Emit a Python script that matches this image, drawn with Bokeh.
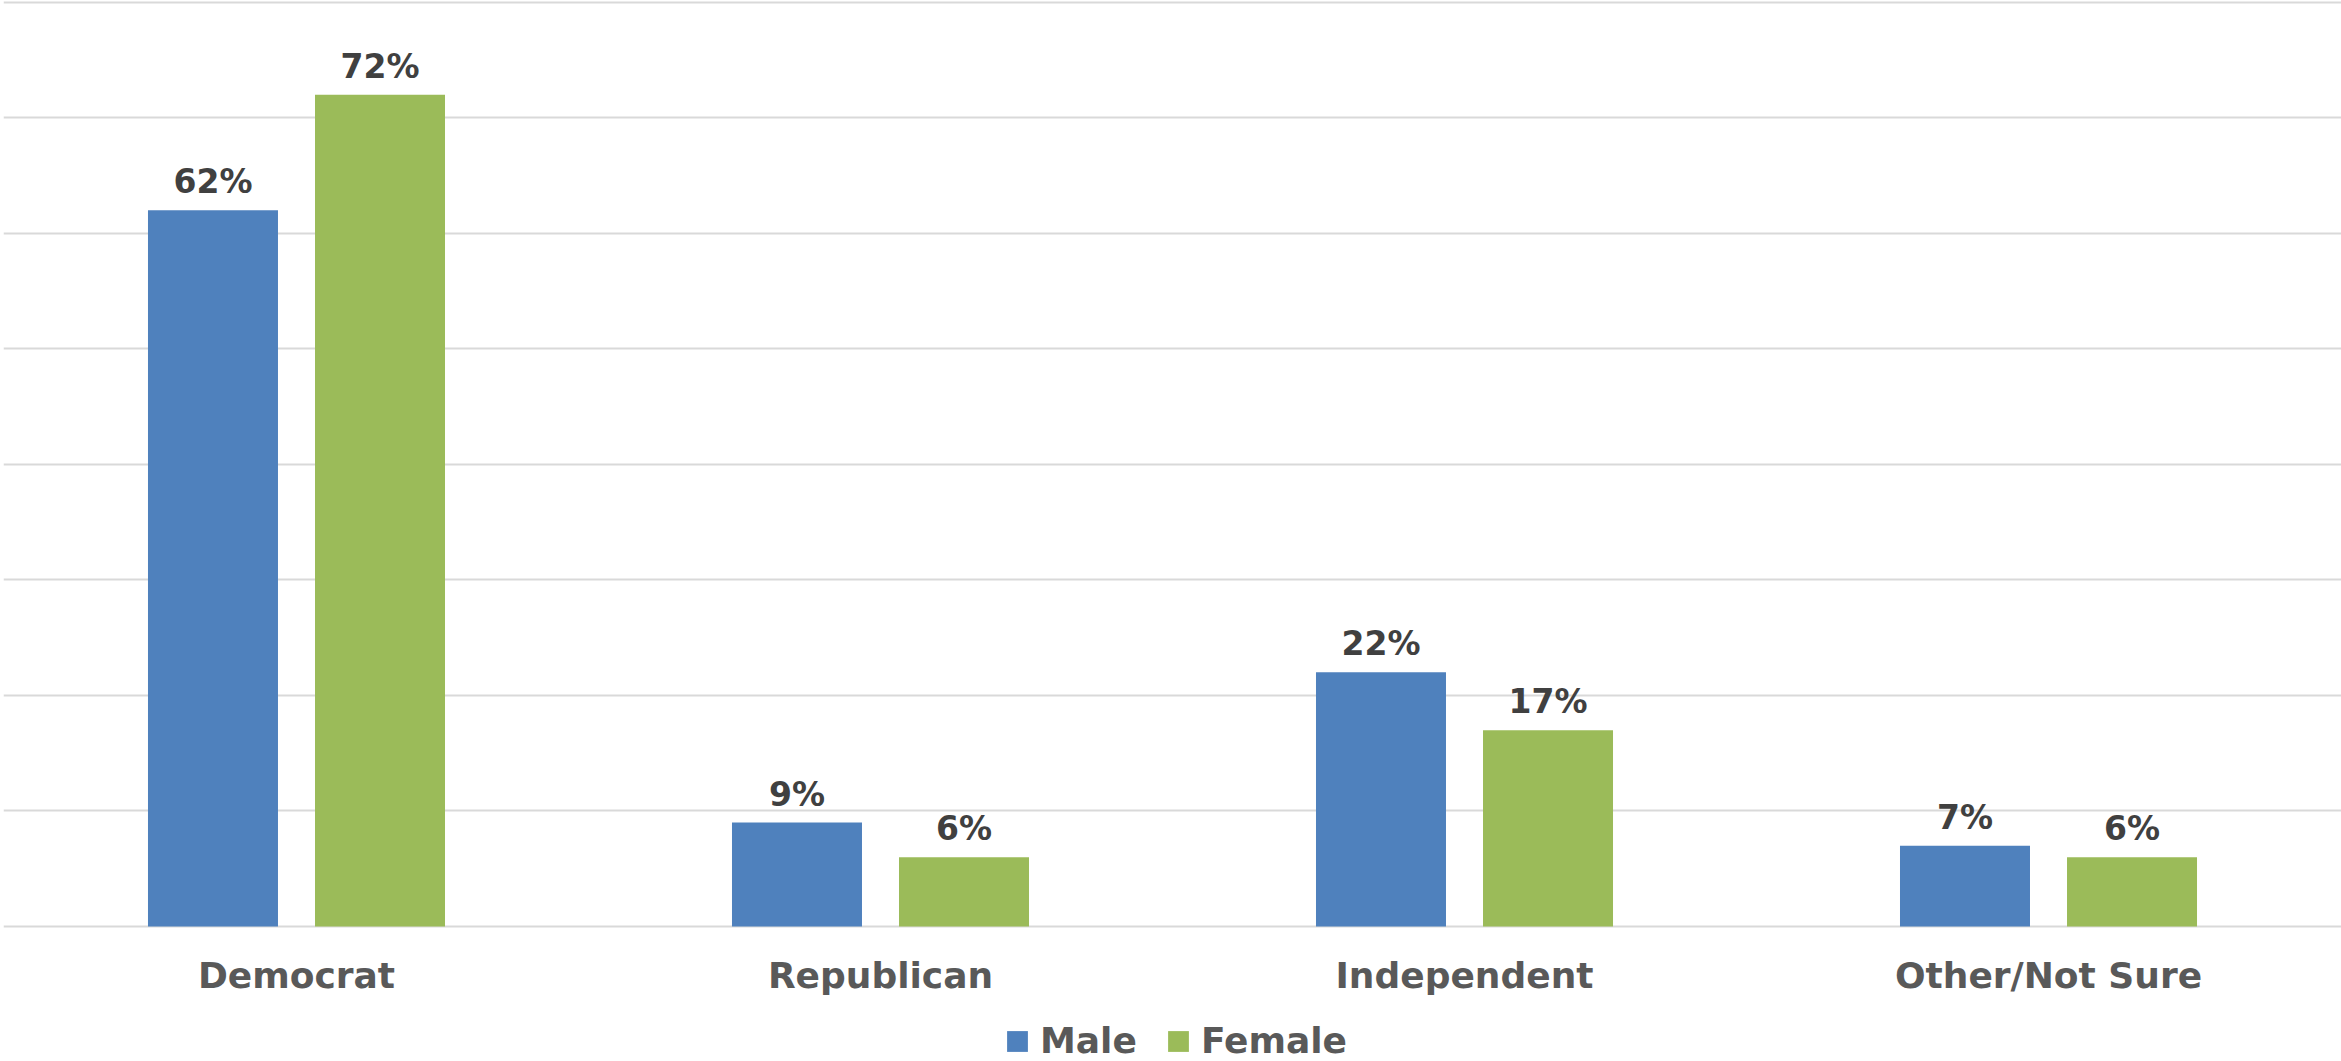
from bokeh.plotting import figure
from bokeh.models import ColumnDataSource, FactorRange, Range1d, FixedTicker, Legend, LegendItem
from bokeh.transform import dodge
from bokeh.core.properties import value
from bokeh.embed import file_html
from bokeh.resources import INLINE

categories = ["Democrat", "Republican", "Independent", "Other/Not Sure"]
male = [62, 9, 22, 7]
female = [72, 6, 17, 6]
male_labels = ["62%", "9%", "22%", "7%"]
female_labels = ["72%", "6%", "17%", "6%"]
series_names = ["Male", "Female"]
grid_ticks = [0, 10, 20, 30, 40, 50, 60, 70, 80]

FONT = "DejaVu Sans"
BLUE = "#4F81BD"
GREEN = "#9BBB59"

src = ColumnDataSource(dict(cat=categories, male=male, female=female,
                            ml=male_labels, fl=female_labels,
                            zero=[0] * len(categories)))

p = figure(width=2341, height=1061,
           x_range=FactorRange(*categories, range_padding=0.0017,
                               range_padding_units="absolute"),
           y_range=Range1d(-11.69, 80.17),
           output_backend="svg", toolbar_location=None,
           x_axis_location=None, y_axis_location=None,
           min_border_left=3, min_border_right=0, min_border_top=0,
           min_border_bottom=0)
p.outline_line_color = None
p.background_fill_color = "white"
p.border_fill_color = "white"

off = 0.143
bw = 0.2226
r_m = p.vbar(x=dodge("cat", -off, range=p.x_range), top="male", width=bw,
             source=src, fill_color=BLUE, line_color=None)
r_f = p.vbar(x=dodge("cat", off, range=p.x_range), top="female", width=bw,
             source=src, fill_color=GREEN, line_color=None)

for col, lab, o in (("male", "ml", -off), ("female", "fl", off)):
    p.text(x=dodge("cat", o, range=p.x_range), y=col, text=lab, source=src,
           y_offset=-9, text_align="center", text_baseline="bottom",
           text_font=value(FONT), text_font_style="bold",
           text_font_size="33px", text_color="#404040")

# category labels under the baseline
p.text(x="cat", y="zero", text="cat", source=src, y_offset=29,
       text_align="center", text_baseline="top",
       text_font=value(FONT), text_font_style="bold",
       text_font_size="36px", text_color="#595959")

p.ygrid.ticker = FixedTicker(ticks=grid_ticks)
p.ygrid.grid_line_color = "#d9d9d9"
p.ygrid.grid_line_width = 2
p.xgrid.visible = False

legend = Legend(items=[LegendItem(label=series_names[0], renderers=[r_m]),
                       LegendItem(label=series_names[1], renderers=[r_f])],
                orientation="horizontal", location=(1001, 0),
                glyph_width=26, glyph_height=26, label_standoff=10, spacing=28,
                padding=0, margin=0, border_line_color=None,
                background_fill_alpha=0,
                label_text_font=FONT, label_text_font_style="bold",
                label_text_font_size="36px", label_text_color="#595959",
                label_height=26)
p.add_layout(legend, "center")

open("out.html", "w").write(file_html(p, INLINE))
